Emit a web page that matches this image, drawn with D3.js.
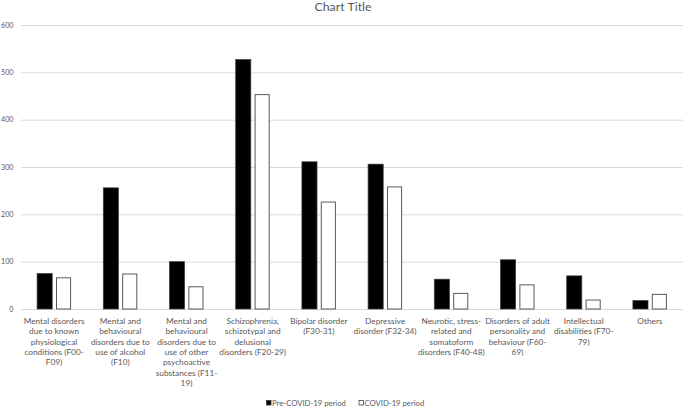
<!DOCTYPE html>
<html><head><meta charset="utf-8">
<script src="https://cdn.jsdelivr.net/npm/d3@7"></script>
<style>body{margin:0;background:#fff}svg{display:block}text{font-family:Lato,"Open Sans",sans-serif;fill:#595959}</style>
</head><body><svg id="c" width="685" height="408"></svg>
<script>
const categories = [
  "Mental disorders due to known physiological conditions (F00-F09)",
  "Mental and behavioural disorders due to use of alcohol (F10)",
  "Mental and behavioural disorders due to use of other psychoactive substances (F11-19)",
  "Schizophrenia, schizotypal and delusional disorders (F20-29)",
  "Bipolar disorder (F30-31)",
  "Depressive disorder (F32-34)",
  "Neurotic, stress-related and somatoform disorders (F40-48)",
  "Disorders of adult personality and behaviour (F60-69)",
  "Intellectual disabilities (F70-79)",
  "Others"
];
const preCovid = [75, 256, 100, 527, 311, 306, 63, 104, 70, 18];
const covid    = [67, 75, 48, 454, 227, 259, 34, 52, 20, 32];
const seriesNames = ["Pre-COVID-19 period", "COVID-19 period"];
const yTicks = [0, 100, 200, 300, 400, 500, 600];
const chartTitle = "Chart Title";

const svg = d3.select("#c");
const m = {l:21, r:2, t:25, b:99};
const W = 685, H = 408;
const x = d3.scaleBand().domain(categories).range([m.l, W - m.r]);
const y = d3.scaleLinear().domain([0, 600]).range([H - m.b, m.t]);

function fit(str, target) {
  const t = svg.append("text").style("font-size","10px").text(str);
  const w = t.node().getComputedTextLength();
  t.remove();
  return 10 * target / w;
}
const FS = fit("Mental disorders", 61);
const TFS = fit(chartTitle, 57);
const LFS = fit(seriesNames[0], 74);
const YFS = fit("600", 12.5);

svg.append("text").attr("x", 343).attr("y", 11).attr("text-anchor","middle")
  .style("font-size", TFS + "px").text(chartTitle);

svg.append("g").selectAll("line").data(yTicks).join("line")
  .attr("x1", m.l).attr("x2", W - m.r)
  .attr("y1", d => y(d)+0.5).attr("y2", d => y(d)+0.5)
  .attr("stroke", "#d9d9d9").attr("stroke-width", 1);

const yAxis = d3.axisLeft(y).tickValues(yTicks).tickSize(0).tickPadding(7.5);
const ga = svg.append("g").attr("transform", `translate(${m.l},0)`).call(yAxis);
ga.select(".domain").remove();
ga.selectAll("text").style("font-size", YFS + "px").style("font-family","Lato, sans-serif").attr("fill","#595959");

const inner = d3.scaleBand().domain([0,1]).range([0, 34]).paddingInner(0.2);
const bw = x.bandwidth();
const groups = svg.append("g").selectAll("g").data(categories).join("g")
  .attr("transform", d => `translate(${x(d) + (bw - 34)/2},0)`);
groups.append("rect")
  .attr("x", inner(0)).attr("width", inner.bandwidth())
  .attr("y", (d,i) => y(preCovid[i])).attr("height", (d,i) => y(0) - y(preCovid[i]))
  .attr("fill", "#000").attr("stroke","#404040").attr("stroke-width",0.75);
groups.append("rect")
  .attr("x", inner(1)+0.5).attr("width", inner.bandwidth()-1)
  .attr("y", (d,i) => y(covid[i])+0.5).attr("height", (d,i) => y(0) - y(covid[i]) - 0.5)
  .attr("fill", "#fff").attr("stroke","#595959").attr("stroke-width",1);

// category labels with wrapping (breaks at spaces and after hyphens)
const maxW = 68.5;
const labels = svg.append("g");
categories.forEach(cat => {
  const parts = [];
  cat.split(" ").forEach((w, wi) => {
    w.split(/(?<=-)(?=\S)/).forEach((s, si) => parts.push({t:s, space: si===0 && wi>0}));
  });
  const cx = x(cat) + bw/2;
  const meas = labels.append("text").style("font-size", FS + "px");
  const lines = [];
  let cur = "";
  parts.forEach(p => {
    const cand = cur === "" ? p.t : cur + (p.space ? " " : "") + p.t;
    meas.text(cand);
    if (meas.node().getComputedTextLength() > maxW && cur !== "") {
      lines.push(cur); cur = p.t;
    } else cur = cand;
  });
  if (cur) lines.push(cur);
  meas.remove();
  const t = labels.append("text").attr("text-anchor","middle").style("font-size", FS + "px");
  lines.forEach((ln, i) => {
    t.append("tspan").attr("x", cx).attr("y", 324 + i*10.35).text(ln);
  });
});

// legend
const leg = svg.append("g");
const legX = [266, 358.5];
seriesNames.forEach((s, i) => {
  leg.append("rect").attr("x", legX[i]+0.5).attr("y", 400.5).attr("width", 4.5).attr("height", 4.5)
    .attr("fill", i===0 ? "#000" : "#fff").attr("stroke", i===0 ? "#404040" : "#595959").attr("stroke-width", 0.9);
  leg.append("text").attr("x", legX[i]+6).attr("y", 406).style("font-size", LFS + "px").text(s);
});
</script></body></html>
